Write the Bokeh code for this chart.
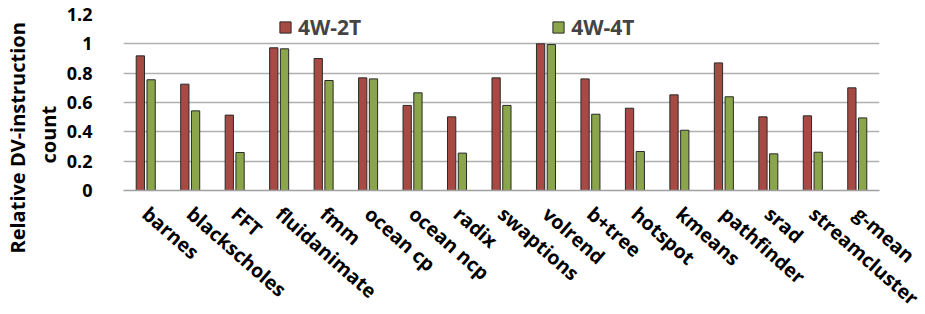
from bokeh.plotting import figure
from bokeh.models import ColumnDataSource, FactorRange, Range1d, Legend, LegendItem, FixedTicker, Title
from bokeh.transform import dodge
from bokeh.embed import file_html
from bokeh.resources import INLINE

categories = ["barnes", "blackscholes", "FFT", "fluidanimate", "fmm", "ocean cp",
              "ocean ncp", "radix", "swaptions", "volrend", "b+tree", "hotspot",
              "kmeans", "pathfinder", "srad", "streamcluster", "g-mean"]
s_2t = [0.918, 0.725, 0.514, 0.973, 0.900, 0.768, 0.580, 0.502, 0.768,
        1.000, 0.761, 0.561, 0.652, 0.870, 0.502, 0.509, 0.700]
s_4t = [0.755, 0.543, 0.259, 0.966, 0.750, 0.761, 0.666, 0.255, 0.580,
        0.995, 0.520, 0.266, 0.411, 0.639, 0.250, 0.261, 0.495]
y_ticks = [0, 0.2, 0.4, 0.6, 0.8, 1.0, 1.2]
y_tick_labels = {0: "0", 0.2: "0.2", 0.4: "0.4", 0.6: "0.6", 0.8: "0.8", 1.0: "1", 1.2: "1.2"}
y_title = ["Relative DV-instruction", "count"]

FONT = "Open Sans"
RED = "#A84A44"
GREEN = "#8AA54A"

src = ColumnDataSource(dict(cat=categories, a=s_2t, b=s_4t))

p = figure(x_range=FactorRange(*categories, range_padding=0.0),
           y_range=Range1d(0, 1.2),
           frame_width=756, frame_height=176,
           output_backend="svg", toolbar_location=None,
           min_border_left=121, min_border_right=48, min_border_top=14,
           min_border_bottom=120)
p.outline_line_color = None
p.background_fill_color = "white"

r1 = p.vbar(x=dodge("cat", -0.121, range=p.x_range), top="a", width=0.186,
            source=src, fill_color=RED, line_color="#2a2a2a", line_width=1)
r2 = p.vbar(x=dodge("cat", 0.121, range=p.x_range), top="b", width=0.186,
            source=src, fill_color=GREEN, line_color="#2a2a2a", line_width=1)

p.yaxis.ticker = FixedTicker(ticks=y_ticks)
p.yaxis.major_label_overrides = y_tick_labels
p.ygrid.grid_line_color = "#B0B0B0"
p.ygrid.grid_line_width = 1.5
p.xgrid.grid_line_color = None

for ax in (p.xaxis, p.yaxis):
    ax.major_tick_line_color = None
    ax.minor_tick_line_color = None
    ax.major_tick_out = 0
    ax.major_tick_in = 0
    ax.minor_tick_out = 0
    ax.major_label_text_font = FONT
    ax.major_label_text_font_style = "bold"
    ax.major_label_text_color = "black"

p.yaxis.major_label_text_font_size = "18px"
p.xaxis.major_label_text_font_size = "19.5px"
p.yaxis.axis_line_color = None
p.yaxis.major_label_standoff = 31
p.xaxis.axis_line_color = "#A0A0A0"
p.xaxis.axis_line_width = 1.5
p.xaxis.major_label_orientation = -0.72
p.xaxis.major_label_standoff = 20

# two-line y title, innermost line first; offset measured from frame bottom
for text, off, so in zip(reversed(y_title), [27, -63], [3, 2]):
    p.add_layout(Title(text=text, align="left", offset=off, standoff=so,
                       text_font=FONT, text_font_style="bold",
                       text_font_size="20px", text_color="black"), "left")

legend = Legend(items=[LegendItem(label="4W-2T", renderers=[r1]),
                       LegendItem(label="4W-4T", renderers=[r2])],
                location=(155, 149), orientation="horizontal",
                spacing=190, padding=0, margin=0,
                glyph_width=14, glyph_height=14, label_standoff=6,
                label_text_font=FONT, label_text_font_style="bold",
                label_text_font_size="21px",
                border_line_color=None, background_fill_alpha=0)
p.add_layout(legend)

open("out.html", "w").write(file_html(p, INLINE))
